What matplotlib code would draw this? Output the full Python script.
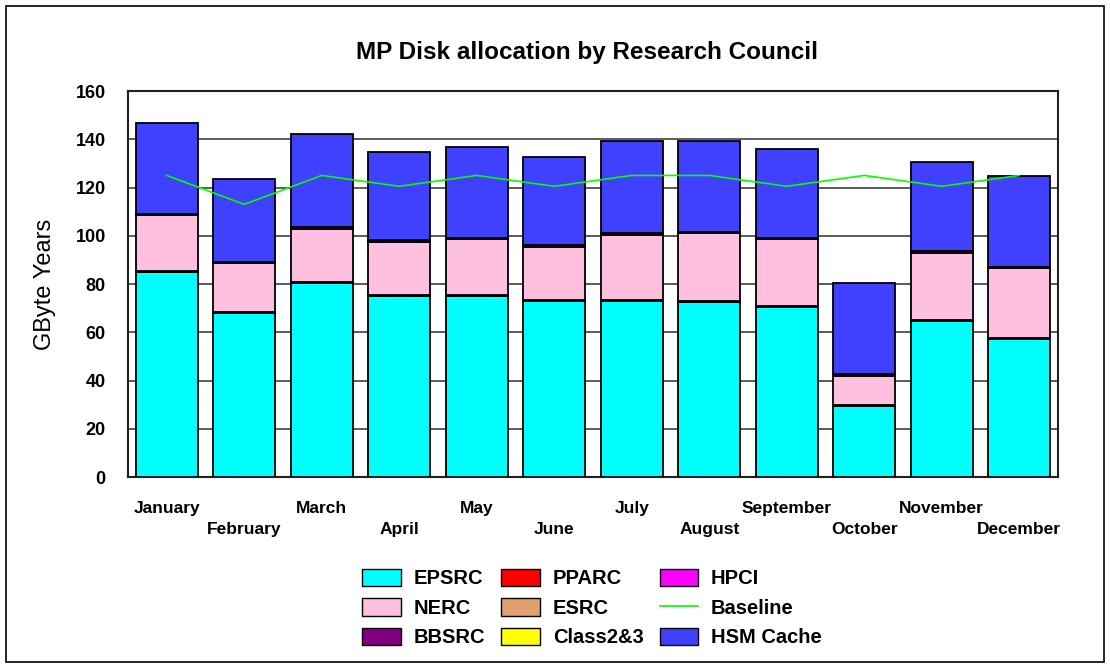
import matplotlib
matplotlib.use("Agg")
import matplotlib.pyplot as plt
from matplotlib.patches import Rectangle, Patch
from matplotlib.lines import Line2D
import numpy as np

plt.rcParams['font.family'] = ['Liberation Sans', 'DejaVu Sans']

# Data (GByte Years)
months = ['January', 'February', 'March', 'April', 'May', 'June',
          'July', 'August', 'September', 'October', 'November', 'December']
epsrc = [85, 68, 80.5, 75, 75, 73, 73, 72.5, 70.5, 29.5, 64.5, 57]
pparc = [0.5, 0.5, 0.5, 0.5, 0.5, 0.5, 0.5, 0.5, 0.5, 0.5, 0.5, 0.5]
hpci = [0, 0, 0, 0, 0, 0, 0, 0, 0, 0, 0, 0]
nerc = [23, 20, 22, 22, 23, 22, 27, 28, 27.5, 12, 28, 29]
esrc = [0, 0, 0, 0, 0, 0, 0, 0, 0, 0, 0, 0]
bbsrc = [0.6, 0.6, 0.6, 0.6, 0.6, 0.6, 0.6, 0.6, 0.6, 0.6, 0.6, 0.6]
class23 = [0, 0, 0, 0, 0, 0, 0, 0, 0, 0, 0, 0]
hsm = [37.7, 34.4, 38.6, 36.6, 37.8, 36.7, 38.2, 37.7, 36.7, 37.9, 37, 37.7]
baseline = [125, 113, 125, 120.5, 125, 120.5, 125, 125, 120.5, 125, 120.5, 125]

# stacking order (bottom to top) with colours
series = [
    ('EPSRC', epsrc, '#00FFFF'),
    ('PPARC', pparc, '#FF0000'),
    ('HPCI', hpci, '#FF00FF'),
    ('NERC', nerc, '#FFC0E0'),
    ('ESRC', esrc, '#E0A070'),
    ('BBSRC', bbsrc, '#800080'),
    ('Class2&3', class23, '#FFFF00'),
    ('HSM Cache', hsm, '#4040FF'),
]

fig = plt.figure(figsize=(11.1, 6.68), dpi=100)
ax = fig.add_axes([128 / 1110, 1 - 477 / 668, 930 / 1110, 386 / 668])

x = np.arange(len(months))
bottom = np.zeros(len(months))
for name, vals, col in series:
    vals = np.array(vals, dtype=float)
    ax.bar(x, vals, width=0.8, bottom=bottom, color=col, edgecolor='black',
           linewidth=1.3, zorder=3)
    bottom += vals

ax.plot(x, baseline, color='#00FF00', linewidth=1.2, zorder=4)

ax.set_xlim(-0.5, len(months) - 0.5)
ax.set_ylim(0, 160)
ax.set_yticks(range(0, 161, 20))
ax.yaxis.grid(True, color='#404040', linewidth=1.2, zorder=0)
ax.set_axisbelow(True)
for s in ax.spines.values():
    s.set_linewidth(1.5)
    s.set_color('#202020')
ax.tick_params(axis='y', length=0, pad=16, labelsize=13)
ax.tick_params(axis='x', length=0, pad=17, labelsize=12.5)
for lab in ax.get_yticklabels():
    lab.set_fontweight('bold')

labels = [m if i % 2 == 0 else '\n' + m for i, m in enumerate(months)]
ax.set_xticks(x)
ax.set_xticklabels(labels, fontweight='bold', linespacing=1.55)

ax.set_ylabel('GByte Years', fontsize=17, labelpad=14)
fig.text(587 / 1110, 1 - 52 / 668, 'MP Disk allocation by Research Council',
         ha='center', va='center', fontsize=17.5, fontweight='bold')

# legend laid out row by row like the original
colors = {n: c for n, _, c in series}
def box(n):
    return Patch(facecolor=colors[n], edgecolor='black', linewidth=1.0, label=n)
handles = [box('EPSRC'), box('NERC'), box('BBSRC'),
           box('PPARC'), box('ESRC'), box('Class2&3'),
           box('HPCI'), Line2D([], [], color='#00FF00', linewidth=1.2, label='Baseline'),
           box('HSM Cache')]
leg = fig.legend(handles=handles, ncol=3, loc='center',
                 bbox_to_anchor=(592 / 1110, 1 - 608 / 668),
                 frameon=False, prop={'weight': 'bold', 'size': 14.5},
                 handlelength=1.9, handleheight=0.95, handletextpad=0.65,
                 columnspacing=0.8, labelspacing=0.5, borderpad=0)

# outer border around the whole chart
fig.patches.append(Rectangle((6 / 1110, 6 / 668), 1098 / 1110, 656 / 668,
                             transform=fig.transFigure, fill=False,
                             edgecolor='black', linewidth=1.2))

fig.savefig('out.png', dpi=100)
